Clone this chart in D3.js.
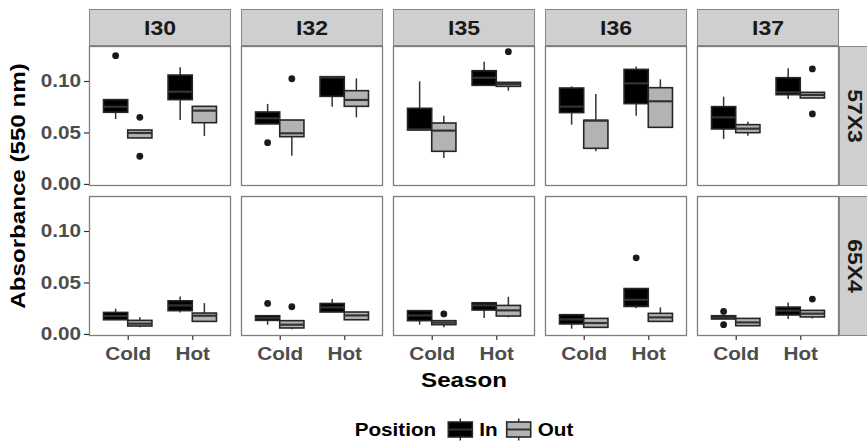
<!DOCTYPE html>
<html>
<head>
<meta charset="utf-8">
<script src="https://cdnjs.cloudflare.com/ajax/libs/d3/7.8.5/d3.min.js"></script>
<style>
  body { margin: 0; background: #fff; }
  svg { display: block; background: #fff; font-family: "Liberation Sans", Arial, sans-serif; font-weight: bold; }
</style>
</head>
<body>
<svg id="chart" width="867" height="441"></svg>
<script>
// facets, categories
var lines = ["I30", "I32", "I35", "I36", "I37"];
var crosses = ["57X3", "65X4"];
var seasons = ["Cold", "Hot"];
var positions = ["In", "Out"];
var yTicks = [0, 0.05, 0.10];

// per line: Cold-In, Cold-Out, Hot-In, Hot-Out
// each box: [whisker low, q1, median, q3, whisker high]
var box57X3 = [
  [[0.0630, 0.0696, 0.0750, 0.0819, 0.0819], [0.0447, 0.0447, 0.0495, 0.0524, 0.0524],
   [0.0621, 0.0819, 0.0896, 0.1058, 0.1133], [0.0466, 0.0595, 0.0712, 0.0754, 0.0754]],
  [[0.0583, 0.0583, 0.0638, 0.0699, 0.0777], [0.0275, 0.0459, 0.0492, 0.0621, 0.0621],
   [0.0751, 0.0851, 0.1035, 0.1042, 0.1042], [0.0647, 0.0754, 0.0816, 0.0906, 0.1026]],
  [[0.0524, 0.0524, 0.0530, 0.0735, 0.0997], [0.0252, 0.0317, 0.0518, 0.0592, 0.0663],
   [0.0958, 0.0958, 0.1032, 0.1100, 0.1188], [0.0906, 0.0948, 0.0970, 0.0987, 0.0987]],
  [[0.0576, 0.0693, 0.0751, 0.0932, 0.0948], [0.0317, 0.0346, 0.0615, 0.0618, 0.0874],
   [0.0663, 0.0780, 0.0977, 0.1113, 0.1142], [0.0545, 0.0550, 0.0803, 0.0935, 0.1016]],
  [[0.0437, 0.0534, 0.0647, 0.0751, 0.0848], [0.0469, 0.0498, 0.0537, 0.0576, 0.0605],
   [0.0825, 0.0867, 0.0890, 0.1032, 0.1123], [0.0835, 0.0835, 0.0865, 0.0890, 0.0890]]
];
var box65X4 = [
  [[0.0138, 0.0138, 0.0174, 0.0209, 0.0245], [0.0064, 0.0077, 0.0100, 0.0132, 0.0161],
   [0.0209, 0.0226, 0.0277, 0.0322, 0.0364], [0.0122, 0.0122, 0.0177, 0.0203, 0.0300]],
  [[0.0090, 0.0132, 0.0155, 0.0177, 0.0177], [0.0045, 0.0058, 0.0090, 0.0129, 0.0129],
   [0.0213, 0.0213, 0.0258, 0.0296, 0.0339], [0.0138, 0.0138, 0.0180, 0.0213, 0.0213]],
  [[0.0090, 0.0129, 0.0180, 0.0226, 0.0226], [0.0064, 0.0090, 0.0110, 0.0129, 0.0129],
   [0.0155, 0.0232, 0.0277, 0.0303, 0.0303], [0.0161, 0.0174, 0.0229, 0.0277, 0.0361]],
  [[0.0051, 0.0097, 0.0141, 0.0187, 0.0192], [0.0064, 0.0064, 0.0106, 0.0151, 0.0151],
   [0.0250, 0.0267, 0.0332, 0.0441, 0.0441], [0.0122, 0.0122, 0.0161, 0.0200, 0.0258]],
  [[0.0145, 0.0145, 0.0160, 0.0177, 0.0177], [0.0080, 0.0080, 0.0112, 0.0151, 0.0151],
   [0.0145, 0.0184, 0.0226, 0.0261, 0.0306], [0.0150, 0.0165, 0.0197, 0.0229, 0.0229]]
];

// outliers: [line, season, position, value]
var out57X3 = [
  ["I30", "Cold", "In", 0.1246], ["I30", "Cold", "Out", 0.0647], ["I30", "Cold", "Out", 0.0269],
  ["I32", "Cold", "In", 0.0401], ["I32", "Cold", "Out", 0.1022], ["I35", "Hot", "Out", 0.1285],
  ["I37", "Hot", "Out", 0.1117], ["I37", "Hot", "Out", 0.0680]
];
var out65X4 = [
  ["I32", "Cold", "In", 0.0296], ["I32", "Cold", "Out", 0.0264], ["I35", "Cold", "Out", 0.0194],
  ["I36", "Hot", "In", 0.0739], ["I37", "Cold", "In", 0.0219], ["I37", "Cold", "In", 0.0090],
  ["I37", "Hot", "Out", 0.0339]
];

var boxData = { "57X3": box57X3, "65X4": box65X4 };
var outData = { "57X3": out57X3, "65X4": out65X4 };
var fillCol = { "In": "#000000", "Out": "#b3b3b3" };
var SX = 1.15; // text is drawn a bit wider than Arial

var svg = d3.select("#chart");

var fx = d3.scaleBand().domain(lines).range([89, 839]).paddingInner(10 / 152);
var fy = d3.scaleBand().domain(crosses).range([46, 336]).paddingInner(10 / 150);
var pw = fx.bandwidth(), ph = fy.bandwidth();

var y = d3.scaleLinear().domain([-0.002, 0.134]).range([ph, 0]);
var x = d3.scalePoint().domain(seasons).range([0, pw]).padding(0.6);
var dodge = d3.scaleBand().domain(positions).range([-0.375 * x.step(), 0.375 * x.step()]);
var bw = dodge.bandwidth();

function flat(rows) {
  var res = [];
  rows.forEach(function (panel, i) {
    panel.forEach(function (b, j) {
      res.push({ line: lines[i], season: seasons[Math.floor(j / 2)], pos: positions[j % 2],
                 lo: b[0], q1: b[1], med: b[2], q3: b[3], hi: b[4] });
    });
  });
  return res;
}

crosses.forEach(function (cr, ri) {
  var boxes = flat(boxData[cr]);
  lines.forEach(function (ln, ci) {
    var g = svg.append("g").attr("transform", "translate(" + fx(ln) + "," + fy(cr) + ")");
    g.append("rect").attr("width", pw).attr("height", ph).attr("fill", "#ffffff");

    var bx = g.selectAll("g.box").data(boxes.filter(function (d) { return d.line === ln; }))
      .enter().append("g").attr("class", "box")
      .attr("transform", function (d) { return "translate(" + (x(d.season) + dodge(d.pos) + bw / 2) + ",0)"; });

    bx.append("line").attr("y1", function (d) { return y(d.hi); }).attr("y2", function (d) { return y(d.q3); })
      .attr("stroke", "#333").attr("stroke-width", 1.5);
    bx.append("line").attr("y1", function (d) { return y(d.q1); }).attr("y2", function (d) { return y(d.lo); })
      .attr("stroke", "#333").attr("stroke-width", 1.5);
    bx.append("rect").attr("x", -bw / 2).attr("width", bw)
      .attr("y", function (d) { return y(d.q3); })
      .attr("height", function (d) { return Math.max(1, y(d.q1) - y(d.q3)); })
      .attr("fill", function (d) { return fillCol[d.pos]; })
      .attr("stroke", "#262626").attr("stroke-width", 1.6);
    bx.append("line").attr("x1", -bw / 2).attr("x2", bw / 2)
      .attr("y1", function (d) { return y(d.med); }).attr("y2", function (d) { return y(d.med); })
      .attr("stroke", "#333").attr("stroke-width", 2.2);

    g.selectAll("circle").data(outData[cr].filter(function (d) { return d[0] === ln; }))
      .enter().append("circle")
      .attr("cx", function (d) { return x(d[1]) + dodge(d[2]) + bw / 2; })
      .attr("cy", function (d) { return y(d[3]); })
      .attr("r", 3.4).attr("fill", "#1a1a1a");

    g.append("rect").attr("x", 0.5).attr("y", 0.5).attr("width", pw - 1).attr("height", ph - 1)
      .attr("fill", "none").attr("stroke", "#7f7f7f").attr("stroke-width", 1.3);

    if (ci === 0) {
      var ya = g.append("g").call(d3.axisLeft(y).tickValues(yTicks).tickFormat(d3.format(".2f"))
        .tickSize(5).tickPadding(3));
      ya.select(".domain").remove();
      ya.selectAll("line").attr("stroke", "#333").attr("stroke-width", 1.2);
      ya.selectAll("text").attr("x", 0).attr("transform", "translate(-8,0) scale(" + SX + ",1)")
        .attr("font-size", 18).attr("fill", "#4d4d4d").attr("font-family", null);
    }
    if (ri === crosses.length - 1) {
      var xa = g.append("g").attr("transform", "translate(0," + ph + ")")
        .call(d3.axisBottom(x).tickSize(4).tickPadding(7.5));
      xa.select(".domain").remove();
      xa.selectAll("line").attr("stroke", "#333").attr("stroke-width", 1.2);
      xa.selectAll("text").attr("transform", "scale(" + SX + ",1)")
        .attr("font-size", 18).attr("fill", "#4d4d4d").attr("font-family", null);
    }
  });

  // right strip
  svg.append("rect").attr("x", 839.5).attr("y", fy(cr) + 0.5).attr("width", 37).attr("height", ph - 1)
    .attr("fill", "#cfcfcf").attr("stroke", "#858585").attr("stroke-width", 1);
  svg.append("text").attr("transform", "translate(855.5," + (fy(cr) + ph / 2) + ") rotate(90) scale(" + SX + ",1)")
    .attr("text-anchor", "middle").attr("dy", "0.35em").attr("font-size", 20).attr("fill", "#1a1a1a").text(cr);
});

// top strips
lines.forEach(function (ln) {
  svg.append("rect").attr("x", fx(ln) + 0.5).attr("y", 9.5).attr("width", pw - 1).attr("height", 36)
    .attr("fill", "#cfcfcf").attr("stroke", "#858585").attr("stroke-width", 1);
  svg.append("text").attr("transform", "translate(" + (fx(ln) + pw / 2) + ",35.3) scale(" + SX + ",1)")
    .attr("text-anchor", "middle").attr("font-size", 20).attr("fill", "#1a1a1a").text(ln);
});

// axis titles
svg.append("text").attr("transform", "translate(25,186) rotate(-90) scale(" + SX + ",1)")
  .attr("text-anchor", "middle").attr("font-size", 21).attr("fill", "#000").text("Absorbance (550 nm)");
svg.append("text").attr("transform", "translate(464,387) scale(" + SX + ",1)")
  .attr("text-anchor", "middle").attr("font-size", 21).attr("fill", "#000").text("Season");

// legend
var leg = svg.append("g");
var keyW = 24, keyH = 15, cy = 429.5, base = 436;
var lt = leg.append("text").attr("font-size", 18).attr("fill", "#000").text("Position");
var cur = lt.node().getComputedTextLength() * SX + 12;
lt.attr("transform", "translate(0," + base + ") scale(" + SX + ",1)");
positions.forEach(function (p) {
  var k = leg.append("g").attr("transform", "translate(" + cur + ",0)");
  k.append("line").attr("x1", keyW / 2).attr("x2", keyW / 2).attr("y1", cy - 11).attr("y2", cy + 11)
    .attr("stroke", "#333").attr("stroke-width", 1.5);
  k.append("rect").attr("y", cy - keyH / 2).attr("width", keyW).attr("height", keyH)
    .attr("fill", fillCol[p]).attr("stroke", "#262626").attr("stroke-width", 1.6);
  k.append("line").attr("x2", keyW).attr("y1", cy).attr("y2", cy).attr("stroke", "#333").attr("stroke-width", 2);
  cur += keyW + 7;
  var t = leg.append("text").attr("font-size", 18).attr("fill", "#000").text(p);
  var w = t.node().getComputedTextLength() * SX;
  t.attr("transform", "translate(" + cur + "," + base + ") scale(" + SX + ",1)");
  cur += w + 9;
});
var total = cur - 9;
leg.attr("transform", "translate(" + (464 - total / 2) + ",0)");
</script>
</body>
</html>
